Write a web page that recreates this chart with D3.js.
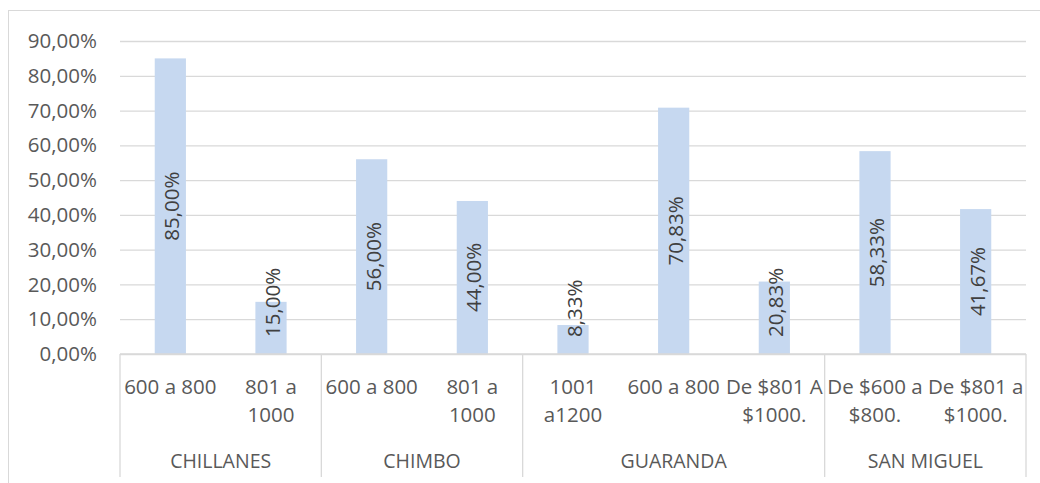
<!DOCTYPE html>
<html>
<head>
<meta charset="utf-8">
<script src="https://cdn.jsdelivr.net/npm/d3@7"></script>
<style>
  html, body { margin: 0; padding: 0; background: #fff; }
  svg { display: block; }
  text { font-family: "Open Sans", "Liberation Sans", sans-serif; }
</style>
</head>
<body>
<svg id="chart" width="1040" height="483"></svg>
<script>
// Income range per canton (share of respondents)
const groups = ["CHILLANES", "CHIMBO", "GUARANDA", "SAN MIGUEL"];
const categoryGroup = [0, 0, 1, 1, 2, 2, 2, 3, 3];
const categories = [
  "600 a 800", "801 a 1000",
  "600 a 800", "801 a 1000",
  "1001 a1200", "600 a 800", "De $801 A $1000.",
  "De $600 a $800.", "De $801 a $1000."
];
const values = [0.85, 0.15, 0.56, 0.44, 0.0833, 0.7083, 0.2083, 0.5833, 0.4167];
const yTicks = [0, 0.1, 0.2, 0.3, 0.4, 0.5, 0.6, 0.7, 0.8, 0.9];

const esLocale = d3.formatLocale({
  decimal: ",", thousands: ".", grouping: [3], currency: ["$", ""], percent: "%"
});
const pct = esLocale.format(".2%");

const svg = d3.select("#chart");
const plot = { left: 120, right: 1026, top: 41, bottom: 354 };
const fontSize = 20.5;

// chart area frame
svg.append("rect")
  .attr("x", 8.5).attr("y", 10.5)
  .attr("width", 1040).attr("height", 480)
  .attr("fill", "#fff").attr("stroke", "#d9d9d9").attr("stroke-width", 1);

const idx = d3.range(categories.length);
const x = d3.scaleBand().domain(idx).range([plot.left, plot.right]).padding(0);
const y = d3.scaleLinear().domain([0, 0.9]).range([plot.bottom, plot.top]);
const barW = x.bandwidth() * 0.31;

// horizontal gridlines
const yAxis = d3.axisLeft(y).tickValues(yTicks).tickFormat(pct)
  .tickSize(-(plot.right - plot.left)).tickPadding(23);
const gy = svg.append("g").attr("transform", `translate(${plot.left},0)`).call(yAxis);
gy.select(".domain").remove();
gy.selectAll(".tick line").attr("stroke", "#d9d9d9").attr("stroke-width", 1.3);
gy.selectAll(".tick text")
  .attr("fill", "#595959").attr("font-size", fontSize)
  .attr("font-family", "'Open Sans', 'Liberation Sans', sans-serif");

// bars
svg.append("g").selectAll("rect").data(idx).join("rect")
  .attr("x", i => x(i) + (x.bandwidth() - barW) / 2)
  .attr("y", i => y(values[i]))
  .attr("width", barW)
  .attr("height", i => y(0) - y(values[i]))
  .attr("fill", "#c6d8f0");

// value labels, rotated, centred on the bar but kept above the base
const labelMaxBottom = y(0) - 17;
const lab = svg.append("g").selectAll("text").data(idx).join("text")
  .attr("font-size", fontSize)
  .attr("fill", "#404040")
  .attr("text-anchor", "middle")
  .attr("dominant-baseline", "central")
  .text(i => pct(values[i]));
lab.each(function(i) {
  const len = this.getComputedTextLength();
  const mid = (y(values[i]) + y(0)) / 2;
  const cy = Math.min(mid, labelMaxBottom - len / 2);
  const cx = x(i) + x.bandwidth() / 2 + 1;
  d3.select(this).attr("transform", `translate(${cx},${cy}) rotate(-90)`);
});

// category axis: baseline and group separators
const axisG = svg.append("g").attr("stroke", "#d9d9d9").attr("stroke-width", 1.3);
axisG.append("line")
  .attr("x1", plot.left).attr("x2", plot.right)
  .attr("y1", plot.bottom).attr("y2", plot.bottom);
const groupStarts = groups.map((g, gi) => categoryGroup.indexOf(gi));
const groupEnds = groups.map((g, gi) => categoryGroup.lastIndexOf(gi));
const sepX = groupStarts.map(s => x(s)).concat([x(groupEnds[groupEnds.length - 1]) + x.bandwidth()]);
axisG.selectAll("line.sep").data(sepX).join("line")
  .attr("class", "sep")
  .attr("x1", d => d).attr("x2", d => d)
  .attr("y1", plot.bottom).attr("y2", 477);

// inner-level category labels with word wrapping
const lineH = 28.4;
const catG = svg.append("g")
  .attr("font-size", fontSize).attr("fill", "#595959").attr("text-anchor", "middle");
idx.forEach(i => {
  const t = catG.append("text")
    .attr("x", x(i) + x.bandwidth() / 2)
    .attr("y", 386)
    .attr("dominant-baseline", "central");
  const words = categories[i].split(" ");
  const lines = [];
  let cur = "";
  const probe = catG.append("text").attr("visibility", "hidden");
  words.forEach(w => {
    const test = cur ? cur + " " + w : w;
    probe.text(test);
    if (cur && probe.node().getComputedTextLength() > x.bandwidth()) {
      lines.push(cur);
      cur = w;
    } else {
      cur = test;
    }
  });
  lines.push(cur);
  probe.remove();
  lines.forEach((l, li) => {
    t.append("tspan")
      .attr("x", x(i) + x.bandwidth() / 2)
      .attr("dy", li === 0 ? 0 : lineH)
      .text(l);
  });
});

// outer-level group labels
svg.append("g").selectAll("text").data(groups).join("text")
  .attr("x", (g, gi) => (x(groupStarts[gi]) + x(groupEnds[gi]) + x.bandwidth()) / 2)
  .attr("y", 460)
  .attr("dominant-baseline", "central")
  .attr("text-anchor", "middle")
  .attr("font-size", 19.5)
  .attr("fill", "#595959")
  .text(d => d);
</script>
</body>
</html>
